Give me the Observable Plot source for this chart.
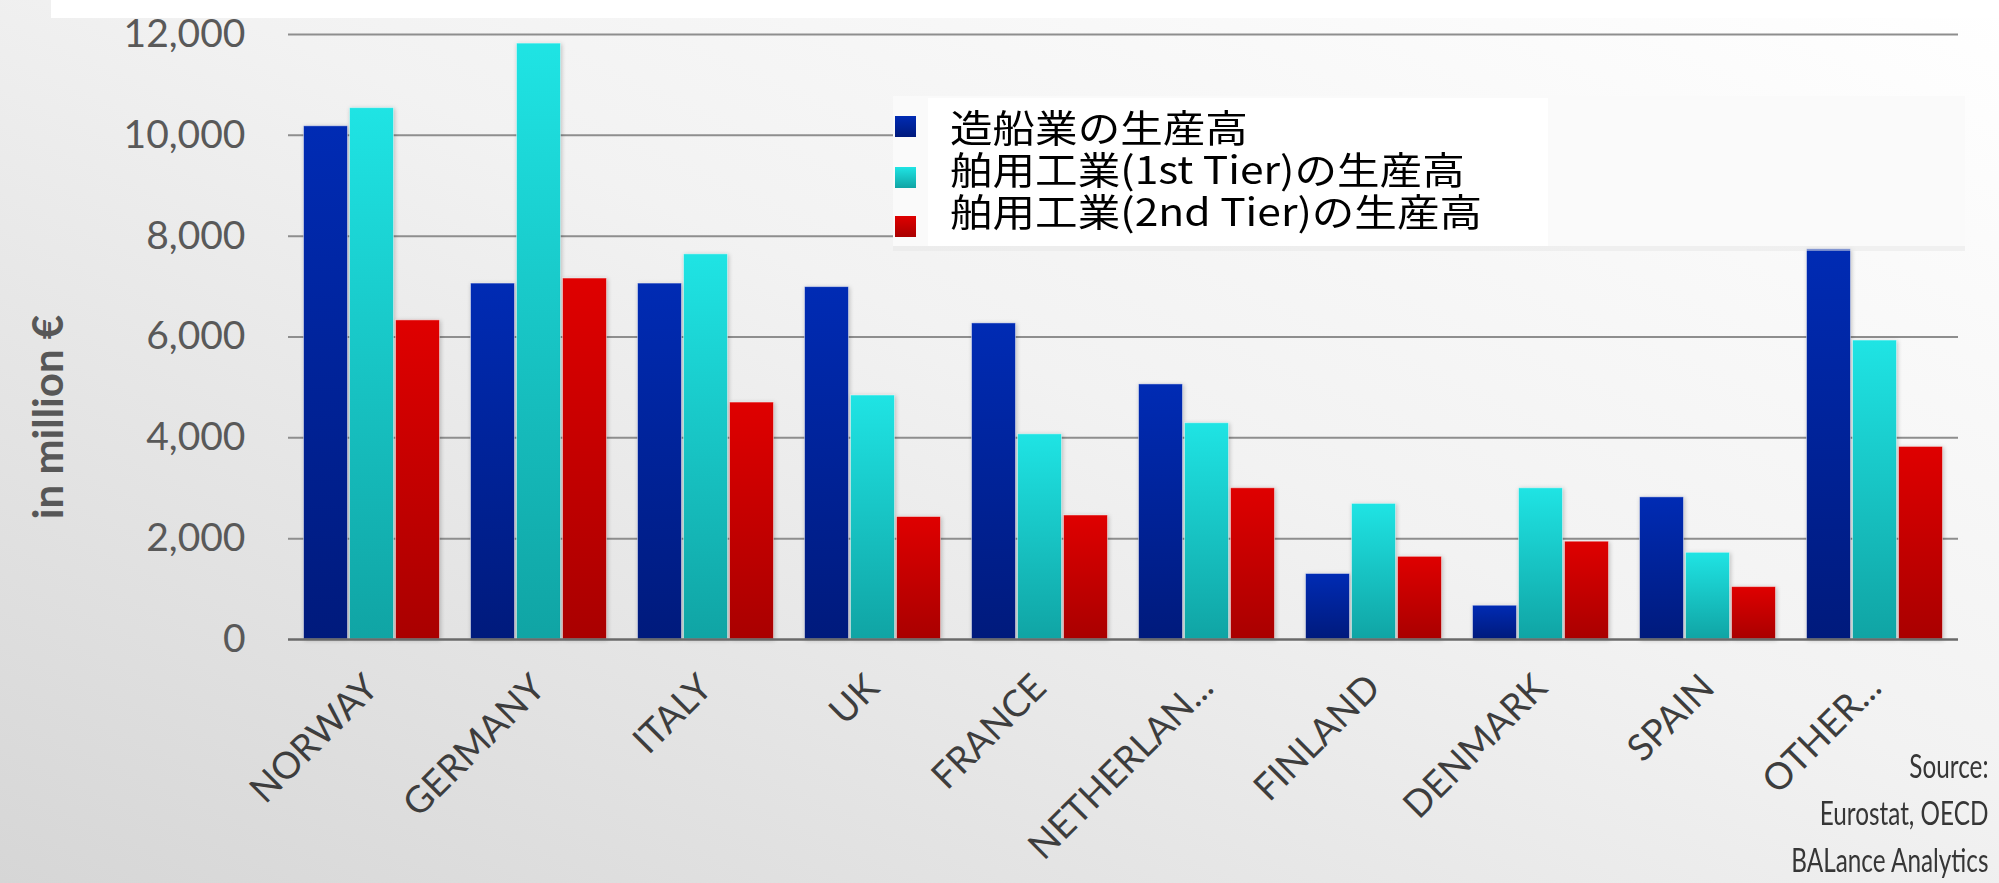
<!DOCTYPE html>
<html>
<head>
<meta charset="utf-8">
<script src="https://cdn.jsdelivr.net/npm/d3@7"></script>
<script src="https://cdn.jsdelivr.net/npm/@observablehq/plot@0.6"></script>
<style>
  html, body { margin: 0; padding: 0; overflow: hidden; }
  #wrap {
    position: relative; width: 1999px; height: 883px; overflow: hidden;
    background: linear-gradient(to bottom left, #ffffff 0%, #f2f2f2 45%, #d6d6d6 100%);
    font-family: Lato, "Open Sans", sans-serif;
  }
  #topband { position: absolute; left: 51px; top: 0; width: 1948px; height: 18px; background: #ffffff; }
  #chart { position: absolute; left: 0; top: 0; }
  #ytitle {
    position: absolute; left: 47px; top: 417px; transform: translate(-50%, -50%) rotate(-90deg);
    font: bold 42px Lato, "Open Sans", sans-serif; color: #575757; white-space: nowrap;
  }
  #legendbg { position: absolute; left: 893px; top: 96px; width: 1072px; height: 150px; background: #fafafa; }
  #legendstrip { position: absolute; left: 893px; top: 246px; width: 1072px; height: 5px; background: rgba(230,230,230,0.5); }
  #legendbox { position: absolute; left: 928px; top: 98px; width: 620px; height: 148px; background: #ffffff; }
  .marker { position: absolute; left: 895px; width: 21px; height: 21px; }
  #legendtext {
    position: absolute; left: 950px; top: 105px; font-family: "Noto Sans CJK JP", sans-serif;
    font-size: 38px; line-height: 42px; color: #000; white-space: nowrap;
    transform: scaleX(1.12); transform-origin: left top;
  }
  #source {
    position: absolute; right: 11px; top: 742px; text-align: right;
    font-family: Lato, "Open Sans", sans-serif; font-size: 32px; line-height: 47px; color: #363636;
    transform: scaleX(0.76); transform-origin: right top; white-space: nowrap;
  }
</style>
</head>
<body>
<div id="wrap">
  <div id="topband"></div>
  <div id="chart"></div>
  <div id="ytitle">in million €</div>
  <div id="legendbg"></div>
  <div id="legendstrip"></div>
  <div id="legendbox"></div>
  <div id="legendmarkers"></div>
  <div id="legendtext"></div>
  <div id="source">Source:<br>Eurostat, OECD<br>BALance Analytics</div>
</div>
<script>
// ---- data ----
const countries = ["NORWAY", "GERMANY", "ITALY", "UK", "FRANCE", "NETHERLAN...", "FINLAND", "DENMARK", "SPAIN", "OTHER..."];
const seriesNames = ["造船業の生産高", "舶用工業(1st Tier)の生産高", "舶用工業(2nd Tier)の生産高"];
const shipbuilding = [10180, 7060, 7060, 6990, 6270, 5060, 1300, 670, 2820, 7740];
const tier1 = [10540, 11820, 7640, 4840, 4070, 4290, 2690, 3000, 1720, 5930];
const tier2 = [6330, 7160, 4700, 2430, 2460, 3000, 1640, 1940, 1040, 3820];
const yTicks = [0, 2000, 4000, 6000, 8000, 10000, 12000];
const gradTop = ["#002bb4", "#1fe4e4", "#df0000"];
const gradBottom = ["#001a7c", "#10a4a4", "#a90000"];

const seriesValues = [shipbuilding, tier1, tier2];
const rows = [];
seriesValues.forEach((vals, s) => vals.forEach((v, i) => rows.push({country: countries[i], series: s, value: v})));

// ---- layout ----
const W = 1999, H = 883;
const mL = 288, mR = 41, mT = 34, mB = 244;
const band = (W - mL - mR) / countries.length;
const barW = 44, gap = 2;
const groupW = 3 * barW + 2 * gap;
const side = (band - groupW) / 2;

const barMarks = seriesNames.map((name, s) => Plot.barY(rows, {
  filter: d => d.series === s,
  x: "country",
  y: "value",
  fill: `url(#grad${s})`,
  stroke: "#ffffff",
  strokeOpacity: 0.45,
  strokeWidth: 1,
  insetLeft: side + s * (barW + gap),
  insetRight: side + (2 - s) * (barW + gap)
}));

const chart = Plot.plot({
  width: W,
  height: H,
  marginLeft: mL,
  marginRight: mR,
  marginTop: mT,
  marginBottom: mB,
  style: {background: "transparent", fontFamily: "Lato, 'Open Sans', sans-serif", overflow: "visible"},
  x: {domain: countries, padding: 0},
  y: {domain: [0, 12000]},
  marks: [
    Plot.ruleY(yTicks.filter(t => t > 0), {stroke: "#8e8e8e", strokeWidth: 2}),
    ...barMarks,
    Plot.ruleY([0], {stroke: "#6a6a6a", strokeWidth: 2.5}),
    Plot.axisY({ticks: yTicks, tickFormat: d3.format(","), tickSize: 0, tickPadding: 43, fontSize: 39, fill: "#595959", label: null}),
    Plot.axisX({tickRotate: -45, tickSize: 0, tickPadding: 42, fontSize: 37, fill: "#3d3d3d", label: null})
  ]
});

// gradients
const svg = d3.select(chart);
const defs = svg.insert("defs", ":first-child");
seriesNames.forEach((n, s) => {
  const g = defs.append("linearGradient").attr("id", `grad${s}`).attr("x1", 0).attr("y1", 0).attr("x2", 0).attr("y2", 1);
  g.append("stop").attr("offset", "0%").attr("stop-color", gradTop[s]);
  g.append("stop").attr("offset", "100%").attr("stop-color", gradBottom[s]);
});
svg.selectAll("g[aria-label='bar']").style("filter", "drop-shadow(1px 1px 2px rgba(0,0,0,0.22))");

document.getElementById("chart").appendChild(chart);

// legend
const markerTops = [116, 167, 216];
const mk = document.getElementById("legendmarkers");
seriesNames.forEach((n, s) => {
  const d = document.createElement("div");
  d.className = "marker";
  d.style.top = markerTops[s] + "px";
  d.style.background = `linear-gradient(${gradTop[s]}, ${gradBottom[s]})`;
  mk.appendChild(d);
});
document.getElementById("legendtext").innerHTML = seriesNames.join("<br>");
</script>
</body>
</html>
